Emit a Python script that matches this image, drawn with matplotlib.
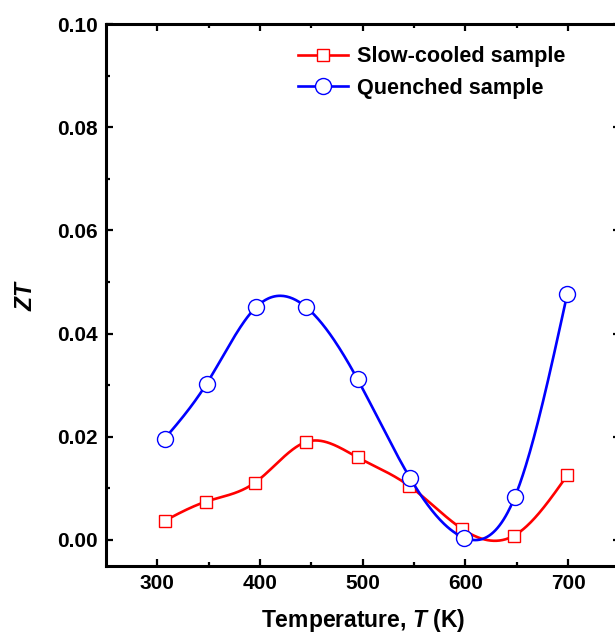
import numpy as np
import matplotlib
matplotlib.use("Agg")
import matplotlib.pyplot as plt

# data
temp_slow = [307, 347, 395, 445, 495, 545, 597, 647, 699]
zt_slow = [0.0037, 0.0074, 0.0111, 0.0190, 0.0160, 0.0105, 0.0021, 0.0008, 0.0125]

temp_quench = [307, 348, 396, 445, 495, 546, 599, 648, 699]
zt_quench = [0.0196, 0.0303, 0.0451, 0.0451, 0.0311, 0.0120, 0.0004, 0.0083, 0.0476]

x_ticks = [300, 400, 500, 600, 700]
y_ticks = [0.00, 0.02, 0.04, 0.06, 0.08, 0.10]


def natural_spline(x, y, n=400):
    """smooth line through the points (natural cubic spline)"""
    x = np.asarray(x, float)
    y = np.asarray(y, float)
    k = len(x)
    h = np.diff(x)
    A = np.zeros((k, k))
    b = np.zeros(k)
    A[0, 0] = 1
    A[-1, -1] = 1
    for i in range(1, k - 1):
        A[i, i - 1] = h[i - 1]
        A[i, i] = 2 * (h[i - 1] + h[i])
        A[i, i + 1] = h[i]
        b[i] = 6 * ((y[i + 1] - y[i]) / h[i] - (y[i] - y[i - 1]) / h[i - 1])
    m = np.linalg.solve(A, b)
    xs = np.linspace(x[0], x[-1], n)
    idx = np.clip(np.searchsorted(x, xs) - 1, 0, k - 2)
    x0, x1 = x[idx], x[idx + 1]
    hh = x1 - x0
    t0, t1 = x1 - xs, xs - x0
    ys = (m[idx] * t0**3 + m[idx + 1] * t1**3) / (6 * hh) \
        + (y[idx] / hh - m[idx] * hh / 6) * t0 \
        + (y[idx + 1] / hh - m[idx + 1] * hh / 6) * t1
    return xs, ys


plt.rcParams['font.family'] = ['Liberation Sans', 'DejaVu Sans']
plt.rcParams['font.weight'] = 'bold'
plt.rcParams['axes.labelweight'] = 'bold'
plt.rcParams['mathtext.fontset'] = 'custom'
plt.rcParams['mathtext.bfit'] = 'Liberation Sans:italic:bold'
plt.rcParams['mathtext.rm'] = 'Liberation Sans:bold'

fig = plt.figure(figsize=(6.15, 6.35), dpi=100)
ax = fig.add_axes([0.1724, 0.1091, 0.835, 0.8531])

red = '#ff0000'
blue = '#0000ff'

xs, ys = natural_spline(temp_slow, zt_slow)
ax.plot(xs, ys, color=red, lw=1.9, zorder=2)
ax.plot(temp_slow, zt_slow, ls='none', marker='s', ms=9, mfc='white',
        mec=red, mew=1.0, zorder=3)
xs, ys = natural_spline(temp_quench, zt_quench)
ax.plot(xs, ys, color=blue, lw=1.9, zorder=4)
ax.plot(temp_quench, zt_quench, ls='none', marker='o', ms=11.5, mfc='white',
        mec=blue, mew=1.0, zorder=5)

# legend handles
h1, = ax.plot([], [], color=red, lw=1.9, marker='s', ms=9, mfc='white', mec=red, mew=1.0)
h2, = ax.plot([], [], color=blue, lw=1.9, marker='o', ms=11.5, mfc='white', mec=blue, mew=1.0)
ax.legend([h1, h2], ['Slow-cooled sample', 'Quenched sample'], frameon=False,
          loc='upper left', bbox_to_anchor=(0.485, 0.927), bbox_transform=fig.transFigure,
          fontsize=15.6, handlelength=2.3, handletextpad=0.4, labelspacing=0.48,
          borderaxespad=0, borderpad=0)

ax.set_xlim(250, 750)
ax.set_ylim(-0.005, 0.10)
ax.set_xticks(x_ticks)
ax.set_yticks(y_ticks)
ax.set_xticks(np.arange(350, 750, 100), minor=True)
ax.set_yticks(np.arange(0.01, 0.10, 0.02), minor=True)
ax.yaxis.set_major_formatter(matplotlib.ticker.FormatStrFormatter('%.2f'))

for s in ax.spines.values():
    s.set_linewidth(2.2)
ax.tick_params(which='both', direction='in', top=True, right=True, width=1.6,
               labelsize=15, pad=6)
ax.tick_params(which='major', length=5)
ax.tick_params(which='minor', length=3)

ax.set_xlabel('Temperature, $\\mathbfit{T}$ (K)', fontsize=16.5, labelpad=10)
ax.set_ylabel('$\\mathbfit{ZT}$', fontsize=16.5, labelpad=14)

fig.savefig('out.png', dpi=100)
